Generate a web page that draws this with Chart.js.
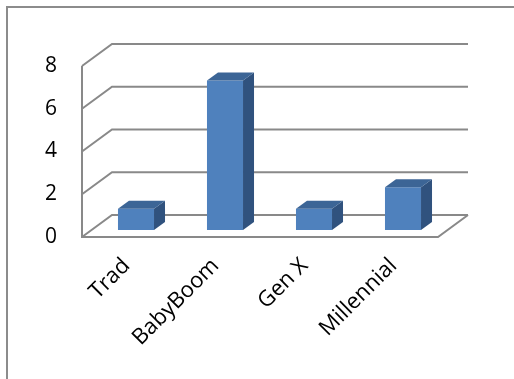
<!DOCTYPE html>
<html>
<head>
<meta charset="utf-8">
<script src="https://cdn.jsdelivr.net/npm/chart.js@4/dist/chart.umd.min.js"></script>
<style>
  html, body { margin: 0; padding: 0; background: #ffffff; }
  #wrap { width: 514px; height: 379px; position: relative; }
</style>
</head>
<body>
<div id="wrap"><canvas id="c" width="514" height="379"></canvas></div>
<script>
const categories = ['Trad', 'BabyBoom', 'Gen X', 'Millennial'];
const values = [1, 7, 1, 2];
const yMin = 0;
const yMax = 8;
const yStep = 2;

const FRONT = '#4F81BD';
const TOP = '#3C6596';
const SIDE = '#30527E';
const GRID = '#898989';

// depth offsets
const WALL_DX = 30, WALL_DY = -22;     // front plane -> back wall
const BAR_DX = 9.5, BAR_DY = -7;       // front plane -> bar front face
const BAR_DEPTH_X = 11, BAR_DEPTH_Y = -8;

const walls = {
  id: 'walls',
  beforeDraw(chart) {
    const ctx = chart.ctx;
    ctx.save();
    ctx.fillStyle = '#ffffff';
    ctx.fillRect(0, 0, chart.width, chart.height);
    ctx.strokeStyle = '#8C8C8C';
    ctx.lineWidth = 2;
    ctx.beginPath();
    ctx.moveTo(7, 379);
    ctx.lineTo(7, 7);
    ctx.lineTo(514, 7);
    ctx.stroke();
    ctx.restore();
  },
  beforeDatasetsDraw(chart) {
    const ctx = chart.ctx;
    const ys = chart.scales.y, xs = chart.scales.x;
    const L = xs.left, R = xs.right;
    ctx.save();
    ctx.strokeStyle = GRID;
    ctx.lineWidth = 2;
    ctx.lineCap = 'butt';
    ys.ticks.forEach(t => {
      const y = ys.getPixelForValue(t.value);
      ctx.beginPath();
      ctx.moveTo(L, y);
      ctx.lineTo(L + WALL_DX, y + WALL_DY);
      ctx.lineTo(R + WALL_DX, y + WALL_DY);
      ctx.stroke();
    });
    const y0 = ys.getPixelForValue(yMin);
    const yT = ys.getPixelForValue(yMax);
    ctx.beginPath();
    ctx.moveTo(L, yT);
    ctx.lineTo(L, y0);
    ctx.lineTo(R, y0);
    ctx.lineTo(R + WALL_DX, y0 + WALL_DY);
    ctx.stroke();
    ctx.restore();
    ctx.save();
    ctx.translate(BAR_DX, BAR_DY);
  },
  afterDatasetsDraw(chart) {
    const ctx = chart.ctx;
    const meta = chart.getDatasetMeta(0);
    meta.data.forEach(el => {
      const p = el.getProps(['x', 'y', 'base', 'width'], true);
      const l = p.x - p.width / 2, r = p.x + p.width / 2;
      const top = Math.min(p.y, p.base), bot = Math.max(p.y, p.base);
      ctx.fillStyle = SIDE;
      ctx.beginPath();
      ctx.moveTo(r, top);
      ctx.lineTo(r + BAR_DEPTH_X, top + BAR_DEPTH_Y);
      ctx.lineTo(r + BAR_DEPTH_X, bot + BAR_DEPTH_Y);
      ctx.lineTo(r, bot);
      ctx.closePath();
      ctx.fill();
      ctx.fillStyle = TOP;
      ctx.beginPath();
      ctx.moveTo(l, top);
      ctx.lineTo(l + BAR_DEPTH_X, top + BAR_DEPTH_Y);
      ctx.lineTo(r + BAR_DEPTH_X, top + BAR_DEPTH_Y);
      ctx.lineTo(r, top);
      ctx.closePath();
      ctx.fill();
    });
    ctx.restore();
  }
};

new Chart(document.getElementById('c'), {
  type: 'bar',
  data: {
    labels: categories,
    datasets: [{
      data: values,
      backgroundColor: FRONT,
      borderWidth: 0,
      categoryPercentage: 1.0,
      barPercentage: 0.405
    }]
  },
  options: {
    responsive: false,
    animation: false,
    events: [],
    layout: { padding: { left: 0, right: 76, top: 66, bottom: 0 } },
    plugins: { legend: { display: false }, tooltip: { enabled: false }, title: { display: false } },
    scales: {
      x: {
        grid: { display: false, drawTicks: false },
        border: { display: false },
        ticks: {
          color: '#000000',
          font: { family: 'Open Sans', size: 22 },
          minRotation: 45,
          maxRotation: 45,
          padding: 16
        },
        afterFit(scale) { scale.height = 142; }
      },
      y: {
        min: yMin,
        max: yMax,
        grid: { display: false, drawTicks: false },
        border: { display: false },
        ticks: {
          stepSize: yStep,
          color: '#000000',
          font: { family: 'Open Sans', size: 21 },
          padding: 25
        },
        afterFit(scale) { scale.width = 82; }
      }
    }
  },
  plugins: [walls]
});
</script>
</body>
</html>
